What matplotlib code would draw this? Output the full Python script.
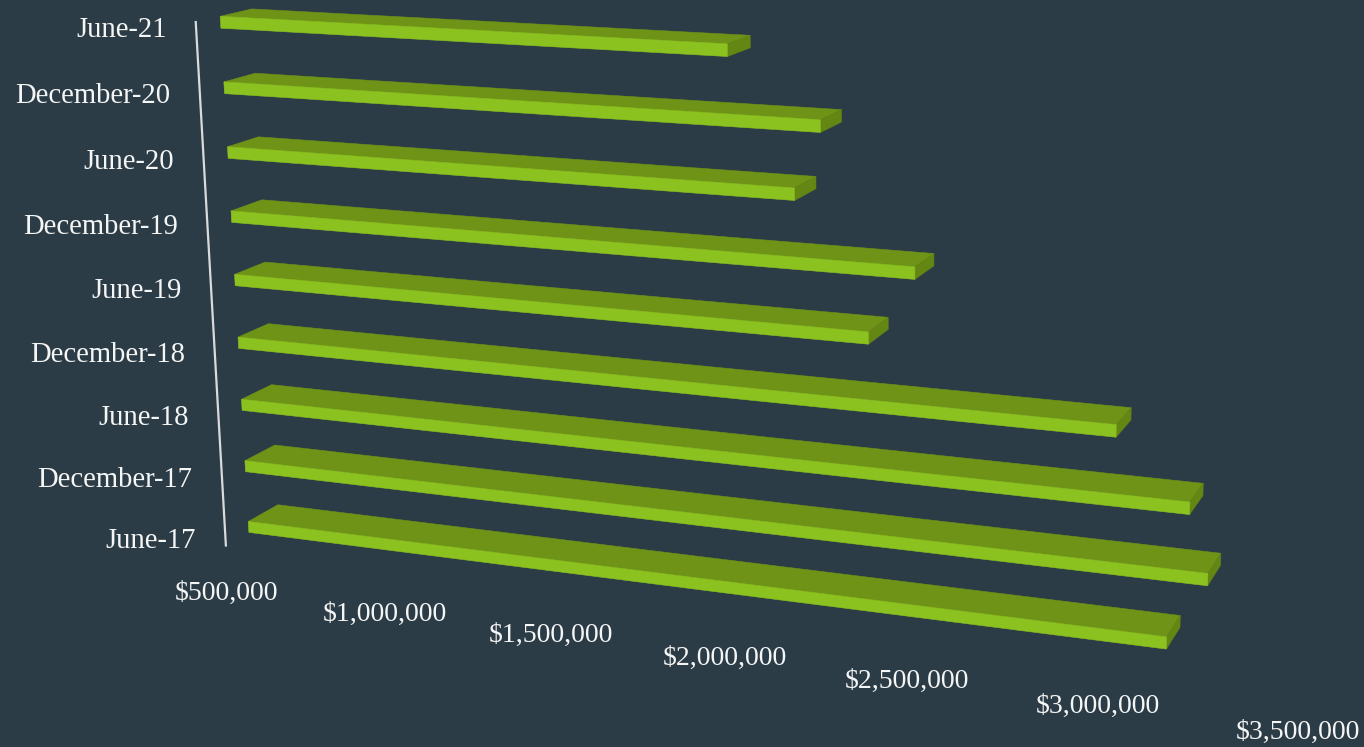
import numpy as np
import matplotlib
matplotlib.use("Agg")
import matplotlib.pyplot as plt

# bottom row first, the way the bars stack up the wall
periods = ["June-17", "December-17", "June-18", "December-18", "June-19",
           "December-19", "June-20", "December-20", "June-21"]
amounts = [3150000, 3250000, 3200000, 3010000, 2360000,
           2484000, 2162000, 2233000, 1983000]
tick_values = [500000, 1000000, 1500000, 2000000, 2500000, 3000000, 3500000]
tick_labels = ["$500,000", "$1,000,000", "$1,500,000", "$2,000,000",
               "$2,500,000", "$3,000,000", "$3,500,000"]

BG = "#2c3c46"
FRONT = "#8cc21f"
TOP = "#6f9317"
SIDE = "#648613"
TEXT = "#f4f5f5"
AXIS_LINE = "#d8dadb"

AXIS_MIN = 500000
AXIS_STEP = 500000
BAR_H = 0.18
WALL_Z = 0.25


def dollars(v):
    return (v - AXIS_MIN) / AXIS_STEP


# camera calibration: (dollars, row, depth) -> pixel
# the axis wall sits at WALL_Z, bars run from depth 1 to depth 2
calib = [
    ((0, 0, WALL_Z), (226, 545)), ((0, 8.18, WALL_Z), (195.5, 22)),
    ((0, 0, WALL_Z), (226, 545)), ((0, 8.18, WALL_Z), (195.5, 22)),
    ((6, 0, WALL_Z), (1295, 685)), ((3, 0, WALL_Z), (724, 611)),
    ((0, 0, 1), (248, 531.5)), ((0, 0.18, 1), (248, 521)),
    ((0, 8, 1), (221, 27.5)), ((0, 8.18, 1), (221, 17)),
    ((0, 0.18, 2), (278, 504)), ((0, 8.18, 2), (252, 9)),
    ((0, 6, 1), (228, 157.7)), ((0, 6.18, 1), (228, 146.7)), ((0, 6.18, 2), (258.3, 136.7)),
    ((0, 5, 1), (231.5, 221.7)), ((0, 5.18, 1), (231.5, 211)), ((0, 5.18, 2), (261.7, 200)),
    ((0, 4, 1), (235, 286)), ((0, 4.18, 1), (235, 275)), ((0, 4.18, 2), (265, 262.3)),
    ((0, 3, 1), (238.3, 348.3)), ((0, 3.18, 1), (238.3, 337.7)), ((0, 3.18, 2), (268.3, 324.3)),
    ((0, 2, 1), (241.7, 411)), ((0, 2.18, 1), (241.7, 400)), ((0, 2.18, 2), (271.7, 385)),
    ((5.3, 0, 1), (1167, 648)), ((5.3, 0.18, 1), (1167, 637)), ((5.3, 0.18, 2), (1180, 615)),
    ((2.966, 8, 1), (727, 56)), ((2.966, 8.18, 1), (727, 44)), ((2.966, 8.18, 2), (749, 36)),
    ((5.5, 1, 1), (1209, 586)), ((5.5, 1.18, 2), (1222, 553)),
    ((3.968, 5, 1), (914, 279)), ((3.968, 5.18, 2), (933, 254)),
    ((3.466, 7, 1), (821, 132)), ((3.466, 7.18, 1), (821, 119)), ((3.466, 7.18, 2), (842, 109)),
    ((3.72, 4, 1), (869, 345)), ((3.72, 4.18, 2), (889, 318)),
    ((5.02, 3, 1), (1116, 438)), ((5.02, 3.18, 2), (1130, 408)),
    ((5.4, 2, 1), (1190, 514)), ((5.4, 2.18, 2), (1203, 483)),
]


def fit_camera(pairs):
    weights = np.ones(len(pairs))
    cam = None
    # reweighted DLT, the 1/w factor brings it close to pixel error
    for _ in range(15):
        rows = []
        for ((x, y, z), (u, v)), k in zip(pairs, weights):
            p = [x, y, z, 1]
            rows.append([k * c for c in p + [0, 0, 0, 0] + [-u * c for c in p]])
            rows.append([k * c for c in [0, 0, 0, 0] + p + [-v * c for c in p]])
        _, _, vt = np.linalg.svd(np.array(rows, dtype=float))
        cam = vt[-1].reshape(3, 4)
        depth = np.array([cam[2] @ np.array([*xyz, 1.0]) for xyz, _ in pairs])
        weights = 1 / np.abs(depth)
        weights = weights / weights.mean()
    return cam


CAM = fit_camera(calib)


def project(x, y, z):
    u, v, w = CAM @ np.array([x, y, z, 1.0])
    return u / w, v / w


fig = plt.figure(figsize=(13.64, 7.47), dpi=100, facecolor=BG)
ax = fig.add_axes([0, 0, 1, 1])
ax.set_xlim(0, 1364)
ax.set_ylim(747, 0)
ax.axis("off")

plt.rcParams["font.family"] = ["Liberation Serif", "DejaVu Serif"]


def face(points, color, order):
    ax.fill([p[0] for p in points], [p[1] for p in points], facecolor=color,
            edgecolor=color, linewidth=0.4, zorder=order)


# top rows drawn first so lower bars sit in front
for row in range(len(amounts) - 1, -1, -1):
    t = dollars(amounts[row])
    y0, y1 = row, row + BAR_H
    order = 10 + (len(amounts) - row)
    face([project(0, y1, 1), project(t, y1, 1), project(t, y1, 2), project(0, y1, 2)], TOP, order)
    face([project(t, y0, 1), project(t, y0, 2), project(t, y1, 2), project(t, y1, 1)], SIDE, order)
    face([project(0, y0, 1), project(t, y0, 1), project(t, y1, 1), project(0, y1, 1)], FRONT, order)

# category axis line on the wall
p0 = project(0, 0, WALL_Z)
p1 = project(0, 8 + BAR_H, WALL_Z)
ax.plot([p0[0], p1[0]], [p0[1], p1[1]], color=AXIS_LINE, linewidth=1.6, zorder=5)

for row, name in enumerate(periods):
    px, py = project(0, row + BAR_H / 2, WALL_Z)
    ax.text(px - 29.5, py + 1.5, name, color=TEXT, fontsize=20.6, ha="right", va="center")

for value, label in zip(tick_values, tick_labels):
    px, py = project(dollars(value), 0, WALL_Z)
    ax.text(px + 1, py + 48, label, color=TEXT, fontsize=20, ha="center", va="center")

fig.savefig("out.png", dpi=100, facecolor=BG)
